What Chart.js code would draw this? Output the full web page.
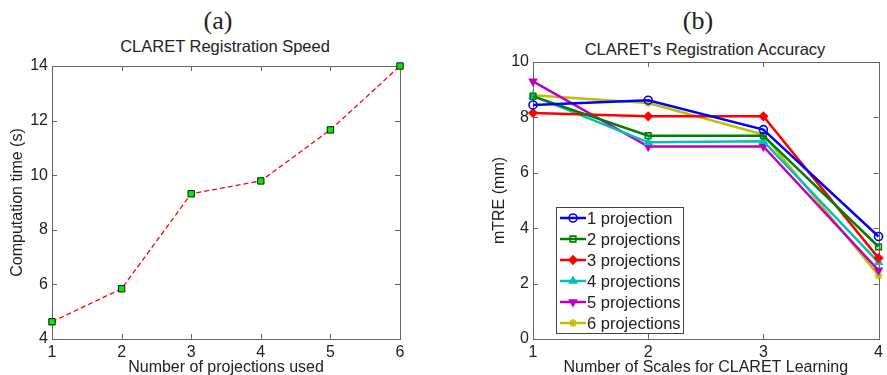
<!DOCTYPE html>
<html lang="en">
<head>
    <meta charset="UTF-8" />
    <title>CLARET Registration</title>
    <script src="https://cdn.jsdelivr.net/npm/chart.js"></script>
    <style>
        body { margin: 0; background: #fff; width: 887px; height: 375px; overflow: hidden; position: relative; }
        canvas { position: absolute; top: 0; }
        #speedChart { left: 0; }
        #accChart { left: 440px; }
        .panel-label { position: absolute; width: 200px; text-align: center; font-family: "Liberation Serif", serif; font-size: 26px; color: #222; line-height: 1; }
        .plot-title { position: absolute; width: 300px; text-align: center; font-family: "Liberation Sans", Arial, sans-serif; font-size: 16.5px; color: #222; line-height: 1; }
    </style>
</head>
<body>
    <div class="panel-label" style="left:118px; top:8px;">(a)</div>
    <div class="plot-title" style="left:75px; top:38px;">CLARET Registration Speed</div>
    <div class="panel-label" style="left:598px; top:8px;">(b)</div>
    <div class="plot-title" style="left:555px; top:41px;">CLARET's Registration Accuracy</div>

    <canvas id="speedChart" width="440" height="375"></canvas>
    <canvas id="accChart" width="447" height="375"></canvas>

    <script>
        // (a) registration speed
        const projCounts = [1, 2, 3, 4, 5, 6];
        const compTime = [4.63, 5.84, 9.32, 9.79, 11.66, 14.0];

        // (b) registration accuracy, one array per number of projections
        const scaleCounts = [1, 2, 3, 4];
        const mtre1 = [8.45, 8.62, 7.56, 3.70];
        const mtre2 = [8.76, 7.34, 7.34, 3.33];
        const mtre3 = [8.16, 8.04, 8.04, 2.92];
        const mtre4 = [8.78, 7.10, 7.14, 2.77];
        const mtre5 = [9.30, 6.95, 6.95, 2.48];
        const mtre6 = [8.80, 8.52, 7.38, 2.29];
        const seriesNames = ['1 projection', '2 projections', '3 projections', '4 projections', '5 projections', '6 projections'];

        const FONT = '"Liberation Sans", Arial, sans-serif';
        const TEXT = '#222';

        // matlab-like box with inward ticks on all four sides
        const boxTicks = {
            id: 'boxTicks',
            beforeDatasetsDraw(chart) {
                const { ctx, chartArea: a, scales: { x, y } } = chart;
                const len = 5;
                ctx.save();
                ctx.strokeStyle = '#666';
                ctx.lineWidth = 1;
                ctx.beginPath();
                x.ticks.forEach(t => {
                    const px = Math.round(x.getPixelForValue(t.value)) + 0.5;
                    ctx.moveTo(px, a.bottom); ctx.lineTo(px, a.bottom - len);
                    ctx.moveTo(px, a.top); ctx.lineTo(px, a.top + len);
                });
                y.ticks.forEach(t => {
                    const py = Math.round(y.getPixelForValue(t.value)) + 0.5;
                    ctx.moveTo(a.left, py); ctx.lineTo(a.left + len, py);
                    ctx.moveTo(a.right, py); ctx.lineTo(a.right - len, py);
                });
                ctx.stroke();
                ctx.strokeRect(Math.round(a.left) + 0.5, Math.round(a.top) + 0.5, Math.round(a.width), Math.round(a.height));
                ctx.restore();
            }
        };

        function drawMarker(ctx, ds, x, y) {
            const opts = {
                pointStyle: ds.pointStyle,
                radius: ds.pointRadius,
                rotation: ds.pointRotation || 0,
                borderWidth: ds.pointBorderWidth
            };
            ctx.fillStyle = ds.pointBackgroundColor;
            ctx.strokeStyle = ds.borderColor;
            ctx.lineWidth = ds.pointBorderWidth;
            if (Chart.helpers && Chart.helpers.drawPoint) {
                Chart.helpers.drawPoint(ctx, opts, x, y);
            } else {
                ctx.beginPath();
                ctx.arc(x, y, ds.pointRadius, 0, Math.PI * 2);
                ctx.fill();
                ctx.stroke();
            }
        }

        // legend box inside the plot, lower left
        const boxLegend = {
            id: 'boxLegend',
            afterDatasetsDraw(chart) {
                const { ctx, chartArea: a } = chart;
                const left = a.left + 23, right = a.left + 150;
                const top = a.bottom - 132, bottom = a.bottom - 6;
                ctx.save();
                ctx.fillStyle = '#fff';
                ctx.fillRect(left, top, right - left, bottom - top);
                ctx.strokeStyle = '#444';
                ctx.lineWidth = 1;
                ctx.strokeRect(left + 0.5, top + 0.5, right - left, bottom - top);
                ctx.font = '16.5px ' + FONT;
                ctx.textBaseline = 'middle';
                chart.data.datasets.forEach((ds, i) => {
                    const yy = top + 11 + i * 21;
                    ctx.strokeStyle = ds.borderColor;
                    ctx.lineWidth = ds.borderWidth;
                    ctx.beginPath();
                    ctx.moveTo(left + 4, yy);
                    ctx.lineTo(left + 30, yy);
                    ctx.stroke();
                    drawMarker(ctx, ds, left + 17, yy);
                    ctx.fillStyle = TEXT;
                    ctx.fillText(ds.label, left + 31, yy + 1);
                });
                ctx.restore();
            }
        };

        function axisTicks(extra) {
            return Object.assign({ color: TEXT, font: { family: FONT, size: 16 } }, extra);
        }
        const noGrid = { display: false, drawTicks: false };

        new Chart(document.getElementById('speedChart'), {
            type: 'line',
            data: {
                datasets: [{
                    label: 'Computation time',
                    data: projCounts.map((p, i) => ({ x: p, y: compTime[i] })),
                    borderColor: '#ff0000',
                    borderWidth: 1.3,
                    borderDash: [5, 3],
                    pointStyle: 'rect',
                    pointRadius: 4.5,
                    pointBackgroundColor: '#00ee00',
                    pointBorderColor: '#111',
                    pointBorderWidth: 1,
                    clip: false
                }]
            },
            options: {
                responsive: false,
                animation: false,
                layout: { padding: { top: 66, right: 40, left: 0, bottom: 0 } },
                plugins: { legend: { display: false }, tooltip: { enabled: false } },
                scales: {
                    x: {
                        type: 'linear', min: 1, max: 6,
                        grid: noGrid, border: { display: false },
                        ticks: axisTicks({ stepSize: 1, padding: 4 }),
                        title: { display: true, text: 'Number of projections used', color: TEXT, font: { family: FONT, size: 16 }, padding: { top: 0, bottom: -2 } },
                        afterFit(s) { s.height = 36; }
                    },
                    y: {
                        min: 4, max: 14,
                        grid: noGrid, border: { display: false },
                        ticks: axisTicks({ stepSize: 2, padding: 4 }),
                        title: { display: true, text: 'Computation time (s)', color: TEXT, font: { family: FONT, size: 16 }, padding: { top: 8, bottom: 0 } },
                        afterFit(s) { s.width = 52; }
                    }
                }
            },
            plugins: [boxTicks]
        });

        const accSeries = [mtre1, mtre2, mtre3, mtre4, mtre5, mtre6];
        const colors = ['#0000ff', '#008000', '#ff0000', '#00bfbf', '#bf00bf', '#bfbf00'];
        const styles = ['circle', 'rect', 'rectRot', 'triangle', 'triangle', 'star'];
        const rotations = [0, 0, 0, 0, 180, 0];
        const fills = ['rgba(0,0,0,0)', 'rgba(0,0,0,0)', '#ff0000', '#00bfbf', '#bf00bf', '#bfbf00'];

        new Chart(document.getElementById('accChart'), {
            type: 'line',
            data: {
                datasets: accSeries.map((vals, i) => ({
                    label: seriesNames[i],
                    data: scaleCounts.map((s, j) => ({ x: s, y: vals[j] })),
                    borderColor: colors[i],
                    borderWidth: 2.5,
                    pointStyle: styles[i],
                    pointRotation: rotations[i],
                    pointRadius: 4,
                    pointBorderWidth: 1.6,
                    pointBorderColor: colors[i],
                    pointBackgroundColor: fills[i],
                    clip: false
                }))
            },
            options: {
                responsive: false,
                animation: false,
                layout: { padding: { top: 62, right: 5, left: 42, bottom: 0 } },
                plugins: { legend: { display: false }, tooltip: { enabled: false } },
                scales: {
                    x: {
                        type: 'linear', min: 1, max: 4,
                        grid: noGrid, border: { display: false },
                        ticks: axisTicks({ stepSize: 1, padding: 4 }),
                        title: { display: true, text: 'Number of Scales for CLARET Learning', color: TEXT, font: { family: FONT, size: 16 }, padding: { top: 0, bottom: -2 } },
                        afterFit(s) { s.height = 36; }
                    },
                    y: {
                        min: 0, max: 10,
                        grid: noGrid, border: { display: false },
                        ticks: axisTicks({ stepSize: 2, padding: 4 }),
                        title: { display: true, text: 'mTRE (mm)', color: TEXT, font: { family: FONT, size: 16 }, padding: { top: 8, bottom: 0 } },
                        afterFit(s) { s.width = 51; }
                    }
                }
            },
            plugins: [boxTicks, boxLegend]
        });
    </script>
</body>
</html>
